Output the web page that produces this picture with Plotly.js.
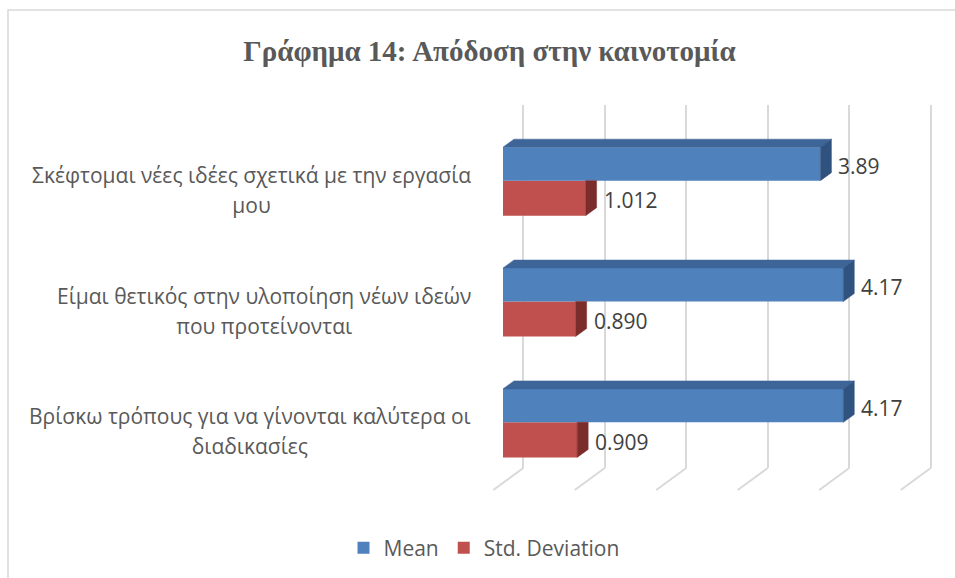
<!DOCTYPE html>
<html><head><meta charset="utf-8">
<script src="https://cdn.plot.ly/plotly-3.0.1.min.js"></script>
<style>html,body{margin:0;padding:0;background:#fff}</style>
</head><body><div id="chart" style="width:955px;height:578px"></div>
<script>
// ---- data ----
const categoryLines = [
  ["Σκέφτομαι νέες ιδέες σχετικά με την εργασία", "μου"],
  ["Είμαι θετικός στην υλοποίηση νέων ιδεών", "που προτείνονται"],
  ["Βρίσκω τρόπους για να γίνονται καλύτερα οι", "διαδικασίες"]
];
const categoryIndex = [0, 1, 2];
const meanValues = [3.89, 4.17, 4.17];
const stdValues = [1.012, 0.890, 0.909];
const meanLabels = ["3.89", "4.17", "4.17"];
const stdLabels = ["1.012", "0.890", "0.909"];
const seriesNames = ["Mean", "Std. Deviation"];
const gridTicks = [0, 1, 2, 3, 4, 5];
const titleText = "Γράφημα 14: Απόδοση στην καινοτομία";

// ---- layout helpers (pixel -> paper) ----
const W = 955, H = 578;
const px = x => x / W;
const py = y => 1 - y / H;

const BLUE = "#4F81BD", BLUE_TOP = "#3E6598", BLUE_SIDE = "#30527F";
const RED = "#C0504D", RED_SIDE = "#7A2D2B";
const GRID = "#d9d9d9";
const DX = 11 / 81.6;   // depth in x units
const DY = 8 / 121;     // depth in y units
const WB = 0.277, WR = 0.29;
const GRID_RANGE = [-0.02, 5.02];

function poly(pointsList) {
  const xs = [], ys = [];
  pointsList.forEach(pts => {
    pts.forEach(p => { xs.push(p[0]); ys.push(p[1]); });
    xs.push(pts[0][0]); ys.push(pts[0][1]);
    xs.push(null); ys.push(null);
  });
  return {xs, ys};
}
function faceTrace(pointsList, color) {
  const p = poly(pointsList);
  return {type: "scatter", mode: "lines", x: p.xs, y: p.ys, xaxis: "x2", yaxis: "y2",
    fill: "toself", fillcolor: color, line: {color: color, width: 0.5},
    hoverinfo: "skip", showlegend: false};
}

const blueTop = faceTrace(meanValues.map((v, i) => [[0, i - WB], [v, i - WB], [v + DX, i - WB - DY], [DX, i - WB - DY]]), BLUE_TOP);
const blueSide = faceTrace(meanValues.map((v, i) => [[v, i - WB], [v + DX, i - WB - DY], [v + DX, i - DY], [v, i]]), BLUE_SIDE);
const redSide = faceTrace(stdValues.map((v, i) => [[v, i], [v + DX, i], [v + DX, i + WR - DY], [v, i + WR]]), RED_SIDE);

const meanBar = {type: "bar", orientation: "h", name: seriesNames[0], x: meanValues, y: categoryIndex,
  width: WB, offset: -WB, marker: {color: BLUE, line: {width: 0}}, xaxis: "x2", yaxis: "y2",
  hoverinfo: "x", legendrank: 1};
const stdBar = {type: "bar", orientation: "h", name: seriesNames[1], x: stdValues, y: categoryIndex,
  width: WR, offset: 0, marker: {color: RED, line: {width: 0}}, xaxis: "x2", yaxis: "y2",
  hoverinfo: "x", legendrank: 2};

// empty trace for the gridline subplot
const gridTrace = {type: "scatter", mode: "markers", x: [], y: [], xaxis: "x", yaxis: "y", showlegend: false, hoverinfo: "skip"};

const annotations = [];
categoryLines.forEach((lines, i) => {
  annotations.push({xref: "paper", yref: "y2", x: px(473), y: categoryIndex[i] + 0.075,
    xanchor: "right", yanchor: "middle", align: "center", showarrow: false,
    text: '<span style="font-size:21px">' + lines.join("<br>") + '</span>',
    font: {family: "Open Sans, sans-serif", size: 23, color: "#595959"}});
});
const dataFont = {family: "Open Sans, sans-serif", size: 21, color: "#404040"};
meanValues.forEach((v, i) => annotations.push({xref: "x2", yref: "y2", x: v, y: categoryIndex[i] - WB / 2,
  xanchor: "left", yanchor: "middle", xshift: 16, yshift: -2, showarrow: false, text: meanLabels[i], font: dataFont}));
stdValues.forEach((v, i) => annotations.push({xref: "x2", yref: "y2", x: v, y: categoryIndex[i] + WR / 2,
  xanchor: "left", yanchor: "middle", xshift: 16, yshift: -2, showarrow: false, text: stdLabels[i], font: dataFont}));

const shapes = [{type: "rect", xref: "paper", yref: "paper", x0: px(8), x1: 1.05, y0: -0.05, y1: py(10),
  line: {color: GRID, width: 1.5}, layer: "below"}];
// perspective floor strokes at the foot of every gridline
gridTicks.forEach(k => shapes.push({type: "line", xref: "x domain", yref: "y domain",
  xsizemode: "pixel", ysizemode: "pixel",
  xanchor: (k - GRID_RANGE[0]) / (GRID_RANGE[1] - GRID_RANGE[0]), yanchor: 0,
  x0: 0, x1: -30, y0: 0, y1: -22, line: {color: GRID, width: 2}, layer: "below"}));

const layout = {
  width: W, height: H, margin: {l: 0, r: 0, t: 0, b: 0},
  paper_bgcolor: "#ffffff", plot_bgcolor: "rgba(0,0,0,0)",
  title: {text: "<b>" + titleText + "</b>", x: px(489.5), xanchor: "center", y: py(51), yanchor: "middle", yref: "paper",
    font: {family: "Liberation Serif, serif", size: 29, color: "#595959"}},
  xaxis: {domain: [px(523.3 - 1.63), px(930.7 + 1.63)], range: GRID_RANGE, tickvals: gridTicks, showgrid: true,
    gridcolor: GRID, gridwidth: 2, showticklabels: false, ticks: "", zeroline: false, showline: false, anchor: "y", fixedrange: true},
  yaxis: {domain: [py(468), py(105)], range: [0, 1], visible: false, showgrid: false, zeroline: false, anchor: "x", fixedrange: true},
  xaxis2: {domain: [px(503), px(911)], range: [0, 5], visible: false, showgrid: false, zeroline: false, anchor: "y2", fixedrange: true},
  yaxis2: {domain: [py(482.8), py(120.2)], range: [2.5, -0.5], visible: false, showgrid: false, zeroline: false, anchor: "x2", fixedrange: true},
  showlegend: true,
  legend: {orientation: "h", x: px(484), xanchor: "center", y: py(548), yanchor: "middle",
    font: {family: "Open Sans, sans-serif", size: 21, color: "#595959"}, itemclick: false, itemdoubleclick: false,
    traceorder: "normal"},
  annotations: annotations, shapes: shapes
};

Plotly.newPlot("chart", [gridTrace, redSide, stdBar, blueTop, blueSide, meanBar], layout, {displayModeBar: false, staticPlot: true});
</script></body></html>
